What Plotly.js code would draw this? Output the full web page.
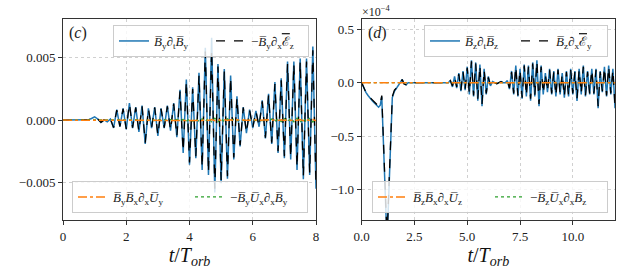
<!DOCTYPE html>
<html><head><meta charset="utf-8">
<script src="https://cdn.plot.ly/plotly-3.0.1.min.js"></script>
<style>html,body{margin:0;padding:0;background:#fff}#chart{width:623px;height:269px}</style>
</head><body><div id="chart"></div>
<script>
// ---- Data ----
// Panel (c): sampled every 0.1 T_orb from 0 to 8, values in units of 1e-3
const leftStep = 0.1;
const leftBlack = [0,0,0,0,0,0,0,0,
 0.02,0.12,0.25,0.08,-0.18,0.02,-0.12,0.08,-0.6,0.8,-0.5,0.9,-0.7,1.3,-0.6,1.0,-0.9,1.1,-1.8,0.9,-0.6,1.0,
 -1.2,0.9,-0.6,1.1,-0.8,1.3,-1.3,2.3,-2.5,3.1,-3.4,2.5,-2.9,3.6,-3.8,5.5,-4.2,5.6,-5.5,4.3,
 -4.8,3.9,-4.5,3.4,-3.0,1.8,-2.0,1.0,-1.0,0.8,-0.6,0.7,-0.5,1.5,-1.4,2.0,-1.8,2.9,-2.5,3.2,
 -2.9,4.5,-3.0,4.5,-3.8,4.7,-4.5,4.7,-4.2,5.6,-5.2];
const leftBlue = [0,0,0,0,0,0,0,0,
 0.02,0.13,0.26,0.09,-0.19,0.02,-0.13,0.09,-0.63,0.84,-0.53,0.95,-0.74,1.36,-0.64,1.05,-0.95,1.16,-1.9,0.95,-0.64,1.05,
 -1.27,0.95,-0.64,1.16,-0.85,1.37,-1.37,2.42,-2.63,3.25,-3.57,2.63,-3.05,3.8,-4.0,5.8,-4.4,6.6,-5.8,4.5,
 -5.05,4.1,-4.7,3.57,-3.15,1.9,-2.1,1.05,-1.05,0.84,-0.63,0.74,-0.53,1.58,-1.47,2.1,-1.9,3.05,-2.63,3.36,
 -3.05,4.7,-3.15,4.7,-4.0,4.94,-4.73,4.94,-4.4,5.9,-5.5];
const leftOrange = [0,0,0,0,0,0,0,0,
 0,0,0,0,0,0,0,0,0,0,0,0,0.01,0,-0.01,0,0.01,0,-0.01,0,0.01,0,
 -0.01,0,0.01,0,-0.01,0.01,-0.01,0.02,-0.02,0.02,-0.03,0.02,-0.02,0.03,-0.03,0.04,-0.03,0.04,-0.04,0.03,
 -0.03,0.03,-0.03,0.02,-0.02,0.02,-0.01,0.01,-0.01,0.01,0,0.01,-0.01,0.01,-0.01,0.02,-0.02,0.02,-0.02,0.03,
 -0.03,0.03,-0.03,0.04,-0.03,0.04,-0.04,0.04,-0.04,0.05,-0.05];
const leftGreen = [0,0,0,0,0,0,0,0,
 0,0,0,0,0,0,0,0,0.02,-0.02,0.03,-0.02,0.03,-0.03,0.02,-0.03,0.03,-0.04,0.05,-0.03,0.03,-0.03,
 0.04,-0.03,0.03,-0.03,0.04,-0.04,0.05,-0.06,0.06,-0.08,0.08,-0.07,0.09,-0.1,0.1,-0.12,0.15,-0.14,0.16,-0.13,
 0.12,-0.12,0.1,-0.08,0.07,-0.06,0.05,-0.04,0.03,-0.03,0.03,-0.03,0.04,-0.05,0.06,-0.07,0.09,-0.1,0.11,-0.12,
 0.12,-0.13,0.14,-0.14,0.15,-0.16,0.15,-0.16,0.14,-0.15,0.12];

// Panel (d): values in units of 1e-4
const rightEarlyT = [0,0.1,0.2,0.3,0.4,0.5,0.6,0.7,0.8,0.88,0.95,1.2,1.45,1.55,1.65,1.75,1.85,1.92,2.0,2.1];
const rightEarlyBlack = [0,-0.05,-0.09,-0.12,-0.14,-0.16,-0.18,-0.2,-0.22,-0.2,-0.12,-1.45,-0.13,-0.07,-0.05,-0.02,0.01,0.03,-0.01,-0.02];
const rightEarlyBlue  = [0,-0.05,-0.09,-0.12,-0.15,-0.17,-0.19,-0.21,-0.23,-0.21,-0.13,-1.5,-0.14,-0.08,-0.05,-0.02,0.01,0.03,-0.01,-0.02];
// later part sampled every 0.1 from 2.2 to 12.0
const rightGridStart = 2.2, rightStep = 0.1;
const rightLateBlack = [0,0,0,0,0,0,0,0,0,0,0,0,0,0,0,0,0,0,0,0,
 0.02,-0.03,0.05,-0.04,0.08,-0.07,0.1,-0.06,0.14,-0.1,0.2,-0.12,0.18,-0.15,0.16,-0.2,0.12,-0.1,0.05,-0.03,
 0.01,0,-0.01,0,0.01,0,0,0.02,
 -0.05,0.1,-0.1,0.15,-0.12,0.12,-0.14,0.16,-0.12,0.15,
 -0.15,0.18,-0.12,0.2,-0.2,0.15,-0.1,0.08,-0.08,0.12,
 -0.1,0.1,-0.12,0.12,-0.1,0.08,-0.13,0.1,-0.12,0.12,
 -0.1,0.1,-0.15,0.12,-0.1,0.15,-0.12,0.1,-0.1,0.12,
 -0.1,0.12,-0.22,0.1,-0.08,0.14,-0.12,0.15,-0.1,0.12,
 -0.22];
const rightLateBlue = [0,0,0,0,0,0,0,0,0,0,0,0,0,0,0,0,0,0,0,0,
 0.02,-0.04,0.06,-0.05,0.09,-0.08,0.11,-0.07,0.15,-0.11,0.21,-0.13,0.19,-0.17,0.17,-0.22,0.13,-0.11,0.06,-0.03,
 0.01,0,-0.01,0,0.01,0,0,0.02,
 -0.06,0.11,-0.11,0.16,-0.13,0.13,-0.15,0.17,-0.13,0.16,
 -0.17,0.19,-0.13,0.21,-0.22,0.16,-0.11,0.09,-0.09,0.13,
 -0.11,0.11,-0.13,0.13,-0.11,0.09,-0.14,0.11,-0.13,0.13,
 -0.11,0.11,-0.17,0.13,-0.11,0.16,-0.13,0.11,-0.11,0.13,
 -0.11,0.13,-0.24,0.11,-0.09,0.15,-0.13,0.16,-0.11,0.13,
 -0.24];

const leftT = leftBlack.map((_, i) => +(i * leftStep).toFixed(2));
const lateT = rightLateBlack.map((_, i) => +(rightGridStart + i * rightStep).toFixed(2));
const rightT = rightEarlyT.concat(lateT);
const rightBlack = rightEarlyBlack.concat(rightLateBlack);
const rightBlue = rightEarlyBlue.concat(rightLateBlue);
const rightZero = rightT.map(() => 0);
const scaleC = v => v * 1e-3;

const OB = 'B\u0305', OU = 'U\u0305';
const OE = '<span style="text-decoration:overline">\u2130</span>';
const it = s => '<i>' + s + '</i>';
const sub = s => '<sub>' + s + '</sub>';

const labels = {
  c1: it(OB) + sub('y') + '\u2202' + sub('t') + it(OB) + sub('y'),
  c2: '\u2212' + it(OB) + sub('y') + '\u2202' + sub('x') + OE + sub('z'),
  c3: it(OB) + sub('y') + it(OB) + sub('x') + '\u2202' + sub('x') + it(OU) + sub('y'),
  c4: '\u2212' + it(OB) + sub('y') + it(OU) + sub('x') + '\u2202' + sub('x') + it(OB) + sub('y'),
  d1: it(OB) + sub('z') + '\u2202' + sub('t') + it(OB) + sub('z'),
  d2: it(OB) + sub('z') + '\u2202' + sub('x') + OE + sub('y'),
  d3: it(OB) + sub('z') + it(OB) + sub('x') + '\u2202' + sub('x') + it(OU) + sub('z'),
  d4: '\u2212' + it(OB) + sub('z') + it(OU) + sub('x') + '\u2202' + sub('x') + it(OB) + sub('z')
};

const BLUE = '#1f77b4', ORANGE = '#ff7f0e', GREEN = '#2ca02c';
const FONT = 'Liberation Serif';

const traces = [
  {x: leftT, y: leftBlue.map(scaleC), name: labels.c1, legend: 'legend', xaxis: 'x', yaxis: 'y', mode: 'lines', line: {color: BLUE, width: 1.5}},
  {x: leftT, y: leftBlack.map(scaleC), name: labels.c2, legend: 'legend', xaxis: 'x', yaxis: 'y', mode: 'lines', line: {color: 'black', width: 1.3, dash: 'dash'}},
  {x: leftT, y: leftGreen.map(scaleC), name: labels.c4, legend: 'legend2', legendrank: 2, xaxis: 'x', yaxis: 'y', mode: 'lines', line: {color: GREEN, width: 1.3, dash: 'dot'}},
  {x: leftT, y: leftOrange.map(scaleC), name: labels.c3, legend: 'legend2', legendrank: 1, xaxis: 'x', yaxis: 'y', mode: 'lines', line: {color: ORANGE, width: 1.5, dash: 'dashdot'}},
  {x: rightT, y: rightBlue, name: labels.d1, legend: 'legend3', xaxis: 'x2', yaxis: 'y2', mode: 'lines', line: {color: BLUE, width: 1.5}},
  {x: rightT, y: rightBlack, name: labels.d2, legend: 'legend3', xaxis: 'x2', yaxis: 'y2', mode: 'lines', line: {color: 'black', width: 1.3, dash: 'dash'}},
  {x: rightT, y: rightZero, name: labels.d4, legend: 'legend4', legendrank: 2, xaxis: 'x2', yaxis: 'y2', mode: 'lines', line: {color: GREEN, width: 1.3, dash: 'dot'}},
  {x: rightT, y: rightZero, name: labels.d3, legend: 'legend4', legendrank: 1, xaxis: 'x2', yaxis: 'y2', mode: 'lines', line: {color: ORANGE, width: 1.5, dash: 'dashdot'}}
];

const W = 623, H = 269;
const px = v => v / W, py = v => (H - v) / H;

const axisCommon = {
  showline: true, mirror: true, linecolor: '#333', linewidth: 1,
  ticks: 'outside', ticklen: 4, tickcolor: '#333',
  showgrid: true, gridcolor: '#c4c4c4', griddash: 'dot', gridwidth: 0.8,
  zeroline: false, automargin: false,
  tickfont: {family: FONT, size: 13, color: '#222'}
};
const xTitle = {text: it('t') + '/' + it('T') + '<sub>' + it('orb') + '</sub>', font: {family: FONT, size: 20, color: '#111'}, standoff: 4};

const legendCommon = {
  orientation: 'h', bgcolor: 'rgba(255,255,255,0.8)', bordercolor: '#cccccc', borderwidth: 1,
  font: {family: FONT, size: 13, color: '#222'}, xanchor: 'right', itemwidth: 30,
  traceorder: 'normal'
};

const layout = {
  width: W, height: H,
  font: {family: FONT, color: '#222'},
  margin: {l: 0, r: 0, t: 0, b: 0},
  paper_bgcolor: '#fff', plot_bgcolor: '#fff',
  showlegend: true,
  xaxis: Object.assign({}, axisCommon, {domain: [px(63), px(316)], range: [0, 8], dtick: 2, tick0: 0, title: xTitle, anchor: 'y'}),
  yaxis: Object.assign({}, axisCommon, {domain: [py(220), py(19)], range: [-0.008, 0.0081], tickvals: [-0.005, 0, 0.005], tickformat: '.3f', anchor: 'x'}),
  xaxis2: Object.assign({}, axisCommon, {domain: [px(361.7), px(615)], range: [0, 12], dtick: 2.5, tick0: 0, tickformat: '.1f', title: xTitle, anchor: 'y2'}),
  yaxis2: Object.assign({}, axisCommon, {domain: [py(220), py(19)], range: [-1.287, 0.597], tickvals: [-1.0, -0.5, 0, 0.5], tickformat: '.1f', anchor: 'x2'}),
  legend: Object.assign({}, legendCommon, {x: px(309), y: py(25), yanchor: 'top', entrywidth: 52}),
  legend2: Object.assign({}, legendCommon, {x: px(308), y: py(213), yanchor: 'bottom', entrywidth: 72}),
  legend3: Object.assign({}, legendCommon, {x: px(608), y: py(25), yanchor: 'top', entrywidth: 46}),
  legend4: Object.assign({}, legendCommon, {x: px(608), y: py(213), yanchor: 'bottom', entrywidth: 72}),
  annotations: [
    {text: '(' + it('c') + ')', xref: 'paper', yref: 'paper', x: px(67), y: py(33), xanchor: 'left', yanchor: 'middle', showarrow: false, font: {family: FONT, size: 16, color: '#222'}},
    {text: '(' + it('d') + ')', xref: 'paper', yref: 'paper', x: px(366), y: py(33), xanchor: 'left', yanchor: 'middle', showarrow: false, font: {family: FONT, size: 16, color: '#222'}},
    {text: '\u00d710<sup>\u22124</sup>', xref: 'paper', yref: 'paper', x: px(360), y: py(11), xanchor: 'left', yanchor: 'middle', showarrow: false, font: {family: FONT, size: 12, color: '#222'}}
  ]
};

Plotly.newPlot('chart', traces, layout, {displayModeBar: false, staticPlot: true});
</script>
</body></html>
